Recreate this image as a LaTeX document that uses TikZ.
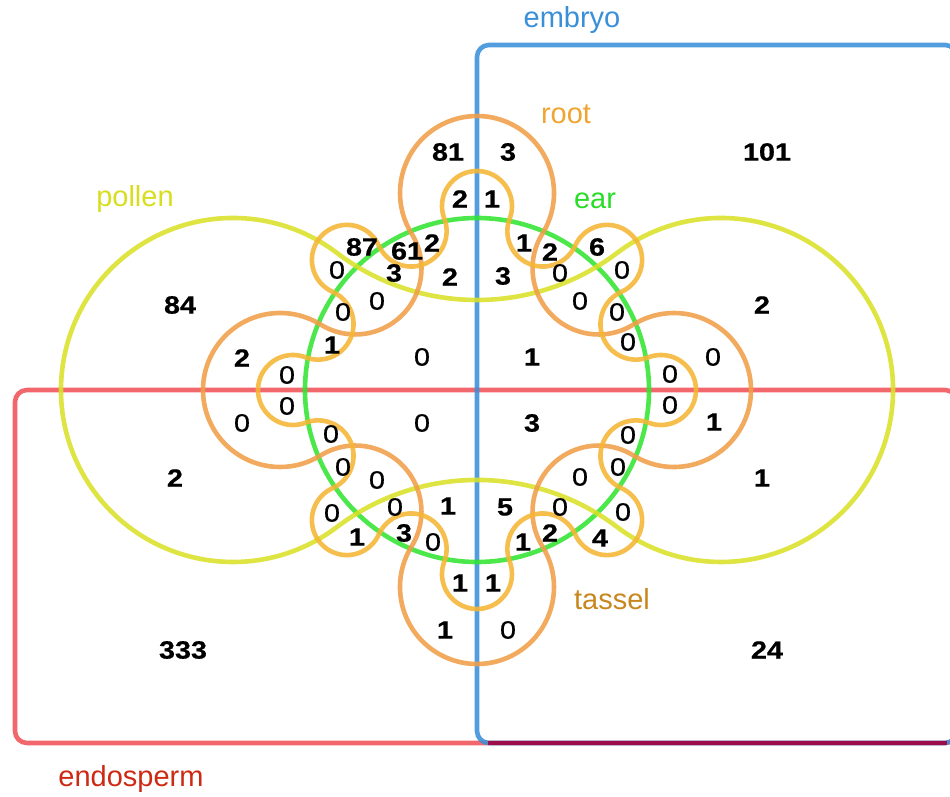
\documentclass[tikz,border=0pt]{standalone}
\usepackage{fontspec}
\setmainfont{Liberation Sans}
\newfontfamily\numfont[FakeStretch=1.15,FakeBold=0.6]{Liberation Sans}
\definecolor{cblue}{RGB}{58,143,217}
\definecolor{cred}{RGB}{240,82,88}
\definecolor{cmaroon}{RGB}{155,14,74}
\definecolor{cgreen}{RGB}{50,228,50}
\definecolor{cyellow}{RGB}{218,224,40}
\definecolor{cdorange}{RGB}{240,158,72}
\definecolor{clorange}{RGB}{245,182,52}
\definecolor{tblue}{RGB}{58,143,217}
\definecolor{troot}{RGB}{238,165,50}
\definecolor{tear}{RGB}{40,220,40}
\definecolor{tpollen}{RGB}{215,222,30}
\definecolor{ttassel}{RGB}{200,135,30}
\definecolor{tendo}{RGB}{205,42,20}
\tikzset{
  setline/.style={line width=4.6pt, draw opacity=0.88},
  num/.style={font=\numfont\fontsize{25}{25}\selectfont\bfseries, inner sep=0pt},
  zero/.style={font=\numfont\fontsize{25}{25}\selectfont, inner sep=0pt},
  lbl/.style={font=\fontsize{29}{30}\selectfont, inner sep=0pt}
}
\begin{document}
\begin{tikzpicture}[x=1pt,y=1pt]
\useasboundingbox (-477,-407) rectangle (473,390);
\clip (-477,-407) rectangle (473,390);
% rectangles
\draw[setline, cred, rounded corners=12] (-462,-353) rectangle (480,0);
\draw[setline, cblue, rounded corners=12] (0,-353) rectangle (480,345);
\draw[setline, cmaroon, draw opacity=1] (11,-353) -- (470,-353);
% ear
\draw[setline, cgreen] (0,0) circle[radius=172];
% pollen
\draw[setline, cyellow] (-140.12,137.09)
  arc[start angle=232.84, end angle=307.16, radius=232.02]
  arc[start angle=127.16, end angle=-127.16, radius=172]
  arc[start angle=52.84, end angle=127.16, radius=232.02]
  arc[start angle=-52.84, end angle=-307.16, radius=172] -- cycle;
% big cogwheel
\draw[setline, cdorange] (156.44,-65.45)
  \foreach \k in {0,1,2,3} {
    arc[start angle={90*\k-121.787}, end angle={90*\k+121.787}, radius=77]
    arc[start angle={90*\k-58.213}, end angle={90*\k-211.787}, radius=66.086]
  } -- cycle;
% small cogwheel
\draw[setline, clorange] (171.528,-32.702)
  \foreach \k in {0,...,7} {
    arc[start angle={45*\k-110.871}, end angle={45*\k+110.871}, radius=35]
    arc[start angle={45*\k-69.129}, end angle={45*\k-245.871}, radius=35.443]
  } -- cycle;
\begin{scope}[x=1pt, y=-1pt, shift={(-477pt,390pt)}]
% labels
\node[lbl, text=tblue] (lembryo) at (572,20) {embryo};
\node[lbl, text=troot] (lroot) at (566,114) {root};
\node[lbl, text=tear] (lear) at (595,201) {ear};
\node[lbl, text=tpollen] (lpollen) at (135,199) {pollen};
\node[lbl, text=ttassel] (ltassel) at (612,599) {tassel};
\node[lbl, text=tendo] (lendo) at (131,779) {endosperm};
% outer numbers
\node[num] (a1) at (767,152) {101};
\node[num] (a2) at (180,305) {84};
\node[num] (a3) at (762,305) {2};
\node[num] (a4) at (175,478) {2};
\node[num] (a5) at (762,478) {1};
\node[num] (a6) at (183,650) {333};
\node[num] (a7) at (767,650) {24};
\node[num] (a8) at (448,152) {81};
\node[num] (a9) at (508,152) {3};
\node[num] (a10) at (460,199) {2};
\node[num] (a11) at (492,199) {1};
% upper left
\node[num] (b1) at (362,247) {87};
\node[num] (b2) at (407,251) {61};
\node[num] (b3) at (432,243) {2};
\node[zero] (b4) at (337,270) {0};
\node[num] (b5) at (394,273) {3};
\node[num] (b6) at (450,277) {2};
\node[zero] (b7) at (377,301) {0};
\node[zero] (b8) at (343,312) {0};
\node[num] (b9) at (332,345) {1};
\node[num] (b10) at (242,358) {2};
\node[zero] (b11) at (422,357) {0};
\node[zero] (b12) at (287,375) {0};
% upper right
\node[num] (c1) at (524,243) {1};
\node[num] (c2) at (550,252) {2};
\node[num] (c3) at (597,247) {6};
\node[num] (c4) at (503,276) {3};
\node[zero] (c5) at (560,273) {0};
\node[zero] (c6) at (622,270) {0};
\node[zero] (c7) at (580,301) {0};
\node[zero] (c8) at (617,312) {0};
\node[num] (c9) at (532,357) {1};
\node[zero] (c10) at (628,342) {0};
\node[zero] (c11) at (713,357) {0};
\node[zero] (c12) at (670,374) {0};
% lower left
\node[zero] (d1) at (287,406) {0};
\node[zero] (d2) at (242,423) {0};
\node[zero] (d3) at (422,423) {0};
\node[zero] (d4) at (331,434) {0};
\node[zero] (d5) at (343,467) {0};
\node[zero] (d6) at (377,480) {0};
\node[zero] (d7) at (332,513) {0};
\node[zero] (d8) at (395,507) {0};
\node[num] (d9) at (448,506) {1};
\node[num] (d10) at (357,537) {1};
\node[num] (d11) at (404,533) {3};
\node[zero] (d12) at (433,542) {0};
\node[num] (d13) at (460,583) {1};
\node[num] (d14) at (445,630) {1};
% lower right
\node[num] (e1) at (532,423) {3};
\node[zero] (e2) at (670,405) {0};
\node[num] (e3) at (714,422) {1};
\node[zero] (e4) at (628,435) {0};
\node[zero] (e5) at (618,467) {0};
\node[zero] (e6) at (580,477) {0};
\node[num] (e7) at (505,507) {5};
\node[zero] (e8) at (560,507) {0};
\node[zero] (e9) at (623,512) {0};
\node[num] (e10) at (523,542) {1};
\node[num] (e11) at (550,533) {2};
\node[num] (e12) at (600,538) {4};
\node[num] (e13) at (493,583) {1};
\node[zero] (e14) at (508,630) {0};
\end{scope}
\end{tikzpicture}
\end{document}
